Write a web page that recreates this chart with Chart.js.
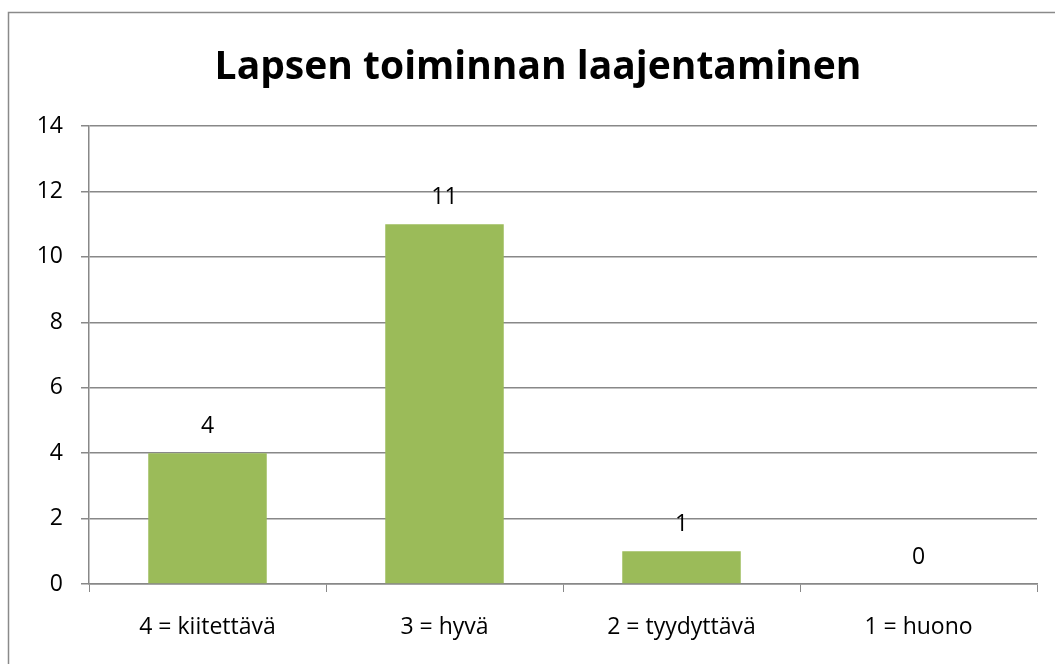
<!DOCTYPE html>
<html>
<head>
<meta charset="utf-8">
<script src="https://cdn.jsdelivr.net/npm/chart.js@4/dist/chart.umd.min.js"></script>
<style>
html,body{margin:0;padding:0;background:#fff;}
#wrap{width:1055px;height:664px;position:relative;}
</style>
</head>
<body>
<div id="wrap"><canvas id="c" width="1055" height="664"></canvas></div>
<script>
const categories = ["4 = kiitettävä", "3 = hyvä", "2 = tyydyttävä", "1 = huono"];
const values = [4, 11, 1, 0];
const titleText = "Lapsen toiminnan laajentaminen";
const yMin = 0, yMax = 14, yStep = 2;

const FONT = "'Open Sans', 'Liberation Sans', Arial, sans-serif";
const GRID = '#888888';

const borderPlugin = {
  id: 'outerBorder',
  beforeDraw(chart) {
    const ctx = chart.ctx;
    ctx.save();
    ctx.fillStyle = '#fff';
    ctx.fillRect(0, 0, chart.width, chart.height);
    ctx.strokeStyle = '#8a8a8a';
    ctx.lineWidth = 1.5;
    ctx.strokeRect(8.5, 12.5, chart.width + 20, chart.height + 20);
    // chart title (the chart frame extends beyond the visible area, so centre it on the frame)
    ctx.font = 'bold 39px ' + FONT;
    ctx.fillStyle = '#000';
    ctx.textAlign = 'center';
    ctx.textBaseline = 'middle';
    ctx.fillText(titleText, 538, 68);
    ctx.restore();
  }
};

const labelPlugin = {
  id: 'valueLabels',
  afterDatasetsDraw(chart) {
    const ctx = chart.ctx;
    const meta = chart.getDatasetMeta(0);
    ctx.save();
    ctx.font = '23px ' + FONT;
    ctx.fillStyle = '#000';
    ctx.textAlign = 'center';
    ctx.textBaseline = 'middle';
    meta.data.forEach((bar, i) => {
      ctx.fillText(String(values[i]), bar.x, bar.y - 27);
    });
    ctx.restore();
  }
};

new Chart(document.getElementById('c'), {
  type: 'bar',
  data: {
    labels: categories,
    datasets: [{
      data: values,
      backgroundColor: '#9BBB59',
      borderWidth: 0,
      categoryPercentage: 1.0,
      barPercentage: 0.5
    }]
  },
  options: {
    responsive: false,
    devicePixelRatio: 1,
    animation: false,
    layout: { padding: { left: 0, right: 18, top: 126, bottom: 0 } },
    plugins: {
      legend: { display: false },
      tooltip: { enabled: false },
      title: { display: false }
    },
    scales: {
      x: {
        offset: true,
        grid: {
          display: true,
          offset: true,
          drawOnChartArea: false,
          drawTicks: true,
          tickLength: 8,
          color: GRID
        },
        border: { display: true, color: GRID, width: 1.5 },
        ticks: {
          color: '#000',
          font: { family: FONT, size: 23 },
          padding: 22,
          maxRotation: 0
        },
        afterFit(scale) { scale.height = 80; }
      },
      y: {
        min: yMin,
        max: yMax,
        ticks: {
          stepSize: yStep,
          color: '#000',
          font: { family: FONT, size: 23 },
          padding: 18
        },
        grid: {
          color: GRID,
          lineWidth: 1.5,
          drawTicks: true,
          tickLength: 8
        },
        border: { display: true, color: GRID, width: 1.5 },
        afterFit(scale) { scale.width = 89; }
      }
    }
  },
  plugins: [borderPlugin, labelPlugin]
});
</script>
</body>
</html>
